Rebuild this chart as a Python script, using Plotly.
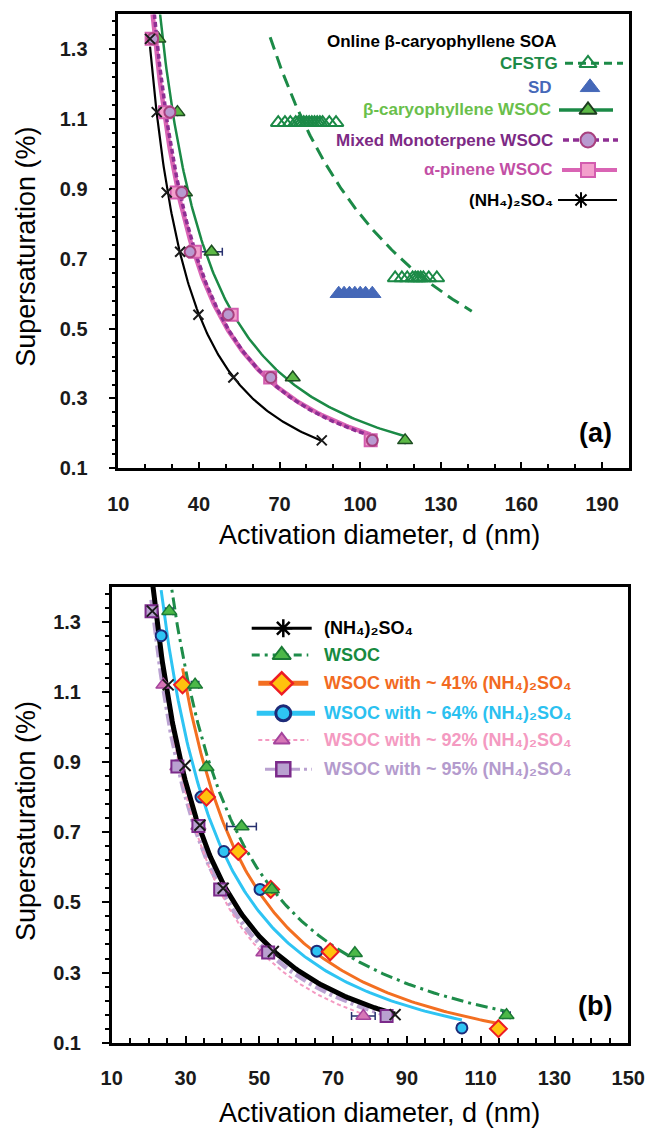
import numpy as np
import plotly.graph_objects as go

# ---------------- DATA ----------------
# Panel (a): supersaturation (%) vs activation diameter (nm)
nh4_a_s = [1.33, 1.12, 0.89, 0.72, 0.54, 0.36, 0.18]
nh4_a_d = [21.8, 24.3, 28.0, 33.0, 39.8, 52.8, 85.7]

apinene_s = [1.33, 1.12, 0.89, 0.72, 0.54, 0.36, 0.18]
apinene_d = [22.4, 27.4, 31.7, 38.5, 52.2, 66.5, 103.9]

mixed_s = [1.33, 1.12, 0.89, 0.72, 0.54, 0.36, 0.18]
mixed_d = [22.8, 29.2, 33.6, 36.7, 50.9, 66.7, 104.5]

bcary_s = [1.33, 1.12, 0.89, 0.72, 0.36, 0.18]
bcary_d = [24.9, 32.0, 34.8, 44.7, 74.9, 116.7]
bcary_err = [0, 0, 0, 4.0, 0, 0]

cfstg_d = [69.5, 72.0, 74.0, 76.0, 77.0, 78.0, 79.0, 80.0, 81.0, 82.0, 83.0,
           84.0, 85.0, 86.0, 88.5, 91.0,
           113.0, 115.5, 117.5, 119.5, 120.5, 121.5, 122.5, 123.5, 125.5, 128.5]
cfstg_s = [1.09, 1.09, 1.09, 1.09, 1.09, 1.09, 1.09, 1.09, 1.09, 1.09, 1.09,
           1.09, 1.09, 1.09, 1.09, 1.09,
           0.645, 0.645, 0.645, 0.645, 0.645, 0.645, 0.645, 0.645, 0.645, 0.645]
cfstg_fit_range = (66.5, 141.5)

sd_d = [92.0, 94.0, 96.0, 98.0, 100.0, 102.0, 104.5]
sd_s = [0.60, 0.60, 0.60, 0.60, 0.60, 0.60, 0.60]

# Panel (b)
nh4_b_s = [1.33, 1.12, 0.89, 0.72, 0.54, 0.36, 0.18]
nh4_b_d = [21.0, 25.3, 29.9, 33.9, 40.2, 53.8, 86.8]

wsoc_s = [1.33, 1.12, 0.885, 0.716, 0.537, 0.355, 0.178]
wsoc_d = [25.6, 32.6, 35.7, 45.2, 53.4, 75.9, 117.0]
wsoc_err = [1.0, 1.0, 0, 4.0, 0, 0, 1.0]

w41_s = [1.12, 0.80, 0.645, 0.537, 0.359, 0.14]
w41_d = [29.2, 35.7, 44.3, 53.1, 69.2, 114.8]

w64_s = [1.26, 0.80, 0.645, 0.537, 0.361, 0.142]
w64_d = [23.4, 34.2, 40.4, 50.2, 65.6, 104.9]

w92_s = [1.12, 0.887, 0.718, 0.537, 0.357, 0.176]
w92_d = [24.0, 27.8, 33.5, 39.8, 51.1, 78.2]
w92_err = [0, 0, 0, 0, 0, 3.2]

w95_s = [1.33, 0.887, 0.718, 0.537, 0.357, 0.176]
w95_d = [20.8, 27.8, 33.5, 39.4, 52.4, 84.5]

# tick settings
xa_ticks = [10, 40, 70, 100, 130, 160, 190]
xb_ticks = [10, 30, 50, 70, 90, 110, 130, 150]
y_ticks = [0.1, 0.3, 0.5, 0.7, 0.9, 1.1, 1.3]

AS = "(NH₄)₂SO₄"

# ---------------- LAYOUT CONSTANTS ----------------
W, H = 649, 1128
FONT = "Arial, Liberation Sans, DejaVu Sans, sans-serif"


def px(x):
    return x / W


def py(y):
    return 1 - y / H


def power_fit(d, s, lo=None, hi=None, n=150):
    b, loga = np.polyfit(np.log(d), np.log(s), 1)
    lo = min(d) if lo is None else lo
    hi = max(d) if hi is None else hi
    g = np.geomspace(lo, hi, n)
    return g, np.exp(loga) * g ** b


fig = go.Figure()


def fit_line(d, s, xa, ya, color, width, dash="solid", lo=None, hi=None):
    gx, gy = power_fit(d, s, lo, hi)
    fig.add_trace(go.Scatter(x=gx, y=gy, mode="lines", xaxis=xa, yaxis=ya,
                             line=dict(color=color, width=width, dash=dash),
                             showlegend=False, hoverinfo="skip"))


def markers(d, s, xa, ya, symbol, size, fill, edge, lw=1.5, err=None):
    kw = {}
    if err is not None:
        kw["error_x"] = dict(type="data", array=err, color="#27306e",
                             thickness=1.5, width=4, visible=True)
    fig.add_trace(go.Scatter(x=d, y=s, mode="markers", xaxis=xa, yaxis=ya,
                             marker=dict(symbol=symbol, size=size, color=fill,
                                         line=dict(color=edge, width=lw)),
                             showlegend=False, **kw))


# ---------------- PANEL (a) ----------------
fit_line(apinene_d, apinene_s, "x", "y", "#d964b4", 4.5)
fit_line(mixed_d, mixed_s, "x", "y", "#8e2f93", 3.5, dash="5px,3px")
fit_line(bcary_d, bcary_s, "x", "y", "#1b8a46", 2.5)
fit_line(nh4_a_d, nh4_a_s, "x", "y", "#000000", 2.2)
fit_line(cfstg_d, cfstg_s, "x", "y", "#1c8a47", 3, dash="13px,7px",
         lo=cfstg_fit_range[0], hi=cfstg_fit_range[1])

markers(sd_d, sd_s, "x", "y", "triangle-up", 15, "#4568b8", "#4568b8", 1)
markers(cfstg_d, cfstg_s, "x", "y", "triangle-up-open", 13, "#1c8a47", "#1c8a47", 2)
markers(bcary_d, bcary_s, "x", "y", "triangle-up", 13, "#5cb946", "#1d4d22", 1.5, err=bcary_err)
markers(apinene_d, apinene_s, "x", "y", "square", 12, "#f3a0cc", "#d35daf", 2)
markers(mixed_d, mixed_s, "x", "y", "circle", 11, "#b99ad0", "#a8407f", 2)
markers(nh4_a_d, nh4_a_s, "x", "y", "x-thin-open", 10, "#1a1a1a", "#1a1a1a", 2)

# ---------------- PANEL (b) ----------------
fit_line(w95_d, w95_s, "x2", "y2", "#bba3d2", 4.5, dash="12px,4px,3px,4px")
fit_line(w92_d, w92_s, "x2", "y2", "#f49ac2", 2, dash="4px,3px")
fit_line(nh4_b_d, nh4_b_s, "x2", "y2", "#000000", 5)
fit_line(w64_d, w64_s, "x2", "y2", "#2ec4f3", 3)
fit_line(w41_d, w41_s, "x2", "y2", "#f36f21", 3)
fit_line(wsoc_d, wsoc_s, "x2", "y2", "#1e8c4a", 3, dash="12px,5px,3px,5px")

markers(w92_d, w92_s, "x2", "y2", "triangle-up", 13, "#d676b6", "#a5449d", 1.5, err=w92_err)
markers(w95_d, w95_s, "x2", "y2", "square", 12, "#b9a1d0", "#7b2a8a", 2)
markers(nh4_b_d, nh4_b_s, "x2", "y2", "x-thin-open", 11, "#1a1a1a", "#1a1a1a", 2)
markers(w64_d, w64_s, "x2", "y2", "circle", 11, "#2ec4f3", "#1d2a78", 2)
markers(w41_d, w41_s, "x2", "y2", "diamond", 13, "#ffc20e", "#ed1c24", 2)
markers(wsoc_d, wsoc_s, "x2", "y2", "triangle-up", 13, "#4cb848", "#1a7a35", 1.5, err=wsoc_err)

# ---------------- CUSTOM LEGENDS (text left, sample right) ----------------
legend_a = [
    # text, text colour, text right x, y, line x0, x1, marker x, line style, marker style
    ("CFSTG", "#1c8a47", 560, 63.3, 565, 623, 588,
     dict(color="#1c8a47", width=3, dash="8px,5px"),
     dict(symbol="triangle-up-open", size=15, color="#1c8a47", line=dict(color="#1c8a47", width=2))),
    ("SD", "#4568b8", 554, 87.3, None, None, 590, None,
     dict(symbol="triangle-up", size=17, color="#4568b8", line=dict(color="#4568b8", width=1))),
    ("β-caryophyllene WSOC", "#6abf4b", 553, 110, 559, 613, 588,
     dict(color="#1b8a46", width=3.5),
     dict(symbol="triangle-up", size=15, color="#5cb946", line=dict(color="#1d3d1f", width=2))),
    ("Mixed Monoterpene WSOC", "#7d2a85", 555, 140, 563, 618, 588,
     dict(color="#8e2f93", width=3.5, dash="6px,4px"),
     dict(symbol="circle", size=15, color="#b99ad0", line=dict(color="#a8407f", width=2))),
    ("α-pinene WSOC", "#c24fa5", 555, 170, 562, 617, 588,
     dict(color="#d964b4", width=4),
     dict(symbol="square", size=14, color="#f3a0cc", line=dict(color="#d35daf", width=2))),
    (AS, "#000000", 555, 200, 558, 617, 581,
     dict(color="#000000", width=2),
     dict(symbol="asterisk-open", size=13, color="#000000", line=dict(color="#000000", width=2))),
]

legend_b = [
    (AS, "#000000", 628.3, 251.7, 311.7, 283.3,
     dict(color="#000000", width=3),
     dict(symbol="asterisk-open", size=15, color="#000000", line=dict(color="#000000", width=2.5))),
    ("WSOC", "#178a40", 655, 251.7, 308.3, 281.7,
     dict(color="#1e8c4a", width=3, dash="8px,5px,3px,5px"),
     dict(symbol="triangle-up", size=16, color="#4cb848", line=dict(color="#1a7a35", width=2))),
    ("WSOC with ~ 41% " + AS, "#f26a22", 683.3, 258.3, 308.3, 281.7,
     dict(color="#f36f21", width=5),
     dict(symbol="diamond", size=17, color="#ffc20e", line=dict(color="#ed1c24", width=2.5))),
    ("WSOC with ~ 64% " + AS, "#2bc1f0", 713.3, 256.7, 315, 283.3,
     dict(color="#2ec4f3", width=5),
     dict(symbol="circle", size=15, color="#2ec4f3", line=dict(color="#1d2a78", width=3))),
    ("WSOC with ~ 92% " + AS, "#f49ac1", 740, 258.3, 308.3, 281.7,
     dict(color="#f49ac2", width=2, dash="4px,3px"),
     dict(symbol="triangle-up", size=14, color="#d676b6", line=dict(color="#a5449d", width=2))),
    ("WSOC with ~ 95% " + AS, "#b49bcd", 769.3, 265, 311.7, 283.3,
     dict(color="#b9a1d0", width=3, dash="12px,4px,3px,4px"),
     dict(symbol="square", size=14, color="#b9a1d0", line=dict(color="#7b2a8a", width=2.5))),
]

annotations = []


def legend_sample(x0, x1, xm, y, line, marker):
    if line is not None:
        fig.add_trace(go.Scatter(x=[x0, x1], y=[y, y], mode="lines", xaxis="x3", yaxis="y3",
                                 line=line, showlegend=False, hoverinfo="skip"))
    fig.add_trace(go.Scatter(x=[xm], y=[y], mode="markers", xaxis="x3", yaxis="y3",
                             marker=marker, showlegend=False, hoverinfo="skip"))


BOLD = "bold"
annotations.append(dict(x=px(441.7), y=py(41.7), xref="paper", yref="paper",
                        text="Online β-caryophyllene SOA", showarrow=False,
                        xanchor="center", yanchor="middle",
                        font=dict(family=FONT, size=17, color="#000000", weight=BOLD)))
for text, col, tx, ty, x0, x1, xm, line, marker in legend_a:
    annotations.append(dict(x=px(tx), y=py(ty), xref="paper", yref="paper",
                            text=text, showarrow=False,
                            xanchor="right", yanchor="middle",
                            font=dict(family=FONT, size=17, color=col, weight=BOLD)))
    legend_sample(x0, x1, xm, ty, line, marker)

for text, col, ty, x0, x1, xm, line, marker in legend_b:
    annotations.append(dict(x=px(321.7), y=py(ty), xref="paper", yref="paper",
                            text=text, showarrow=False,
                            xanchor="left", yanchor="middle",
                            font=dict(family=FONT, size=18, color=col, weight=BOLD)))
    legend_sample(x0, x1, xm, ty, line, marker)

# axis titles and panel labels
for ycen in (246.7, 821.0):
    annotations.append(dict(x=px(26), y=py(ycen), xref="paper", yref="paper",
                            text="Supersaturation (%)", textangle=-90, showarrow=False,
                            xanchor="center", yanchor="middle",
                            font=dict(family=FONT, size=27, color="#000000")))
for ycen in (535.0, 1113.0):
    annotations.append(dict(x=px(379), y=py(ycen), xref="paper", yref="paper",
                            text="Activation diameter, d (nm)", showarrow=False,
                            xanchor="center", yanchor="middle",
                            font=dict(family=FONT, size=27, color="#000000")))
annotations.append(dict(x=px(595), y=py(433), xref="paper", yref="paper", text="(a)",
                        showarrow=False, xanchor="center", yanchor="middle",
                        font=dict(family=FONT, size=27, color="#000000", weight=BOLD)))
annotations.append(dict(x=px(595), y=py(1006), xref="paper", yref="paper", text="(b)",
                        showarrow=False, xanchor="center", yanchor="middle",
                        font=dict(family=FONT, size=27, color="#000000", weight=BOLD)))

# ---------------- AXES ----------------
tickfont = dict(family=FONT, size=20, color="#1a1a1a", weight=BOLD)
axis_common = dict(showgrid=False, zeroline=False, showline=True, linecolor="#000000",
                   linewidth=2.5, mirror=True, tickcolor="#000000", tickwidth=2,
                   tickfont=tickfont, automargin=False)

xa_dom = [px(118.3), px(629)]
xb_dom = [px(111.7), px(628.3)]
ya_dom = [py(468.3), py(14.4)]
yb_dom = [py(1042.7), py(586.6)]


def xaxis_def(dom, rng, tickvals, minor_dt, anchor):
    return dict(axis_common, domain=dom, range=rng, anchor=anchor, tickmode="array",
                tickvals=tickvals, ticks="inside", ticklen=7, ticklabelstandoff=16,
                minor=dict(dtick=minor_dt, tick0=10, ticks="inside", ticklen=5,
                           tickwidth=1.5, tickcolor="#000000", showgrid=False))


def yaxis_def(dom, anchor):
    return dict(axis_common, domain=dom, range=[0.1, 1.4], anchor=anchor, tickmode="array",
                tickvals=y_ticks, tickformat=".1f",
                ticks="outside", ticklen=7, ticklabelstandoff=17,
                minor=dict(dtick=0.04, tick0=0.1, ticks="outside", ticklen=4,
                           tickwidth=1.5, tickcolor="#000000", showgrid=False))


def yaxis_inside(dom, anchor, over):
    return dict(domain=dom, range=[0.1, 1.4], anchor=anchor, overlaying=over, side="left",
                showgrid=False, zeroline=False, showline=False, showticklabels=False,
                tickmode="array", tickvals=y_ticks, ticks="inside", ticklen=7,
                tickwidth=2, tickcolor="#000000", automargin=False,
                minor=dict(dtick=0.04, tick0=0.1, ticks="inside", ticklen=4,
                           tickwidth=1.5, tickcolor="#000000", showgrid=False))


hidden = dict(visible=False, fixedrange=True, showticklabels=False, ticks="",
              showgrid=False, zeroline=False, showline=False, automargin=False)

fig.update_layout(
    template="none",
    autosize=False,
    width=W, height=H,
    margin=dict(l=0, r=0, t=0, b=0, pad=0),
    paper_bgcolor="white", plot_bgcolor="rgba(0,0,0,0)",
    showlegend=False,
    font=dict(family=FONT, color="#000000"),
    xaxis=xaxis_def(xa_dom, [10, 200], xa_ticks, 10, "y"),
    yaxis=yaxis_def(ya_dom, "x"),
    xaxis2=xaxis_def(xb_dom, [10, 150], xb_ticks, 5, "y2"),
    yaxis2=yaxis_def(yb_dom, "x2"),
    xaxis3=dict(hidden, domain=[0, 1], range=[0, W], anchor="y3"),
    yaxis3=dict(hidden, domain=[0, 1], range=[H, 0], anchor="x3"),
    yaxis4=yaxis_inside(ya_dom, "x", "y"),
    yaxis5=yaxis_inside(yb_dom, "x2", "y2"),
    annotations=annotations,
)

fig.write_html(
    "out.html",
    config={"responsive": False, "displayModeBar": False},
    post_script="document.body.style.margin='0';document.body.style.overflow='hidden';",
)
